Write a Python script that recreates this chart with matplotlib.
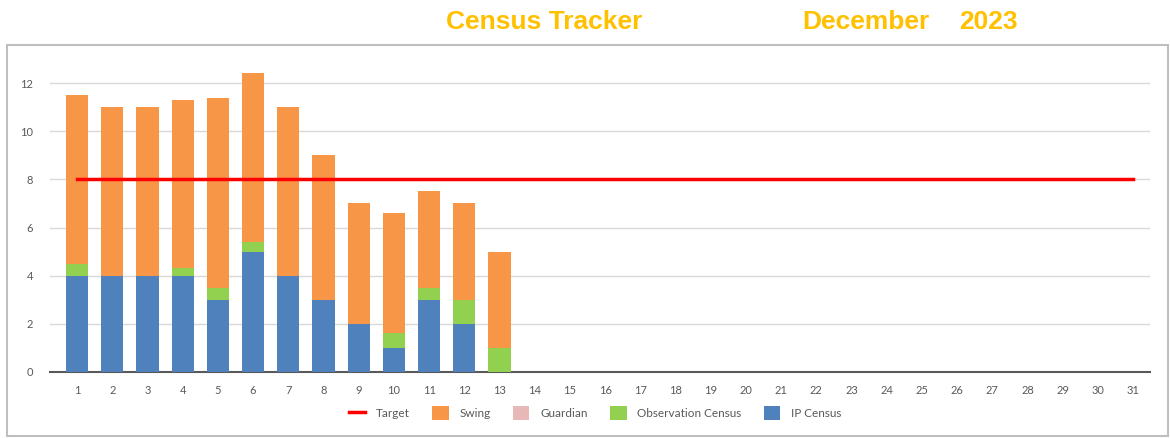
import matplotlib
matplotlib.use('Agg')
import matplotlib.pyplot as plt
from matplotlib.patches import Rectangle
import numpy as np

# data (days 14-31 have no data yet)
days = list(range(1, 32))
ip_census = [4, 4, 4, 4, 3, 5, 4, 3, 2, 1, 3, 2, 0] + [0] * 18
obs_census = [0.5, 0, 0, 0.3, 0.5, 0.4, 0, 0, 0, 0.6, 0.5, 1, 1] + [0] * 18
guardian = [0] * 31
swing = [7, 7, 7, 7, 7.9, 7, 7, 6, 5, 5, 4, 4, 4] + [0] * 18
target = [8] * 31

c_ip = '#4F81BD'
c_obs = '#92D050'
c_guard = '#E6B9B8'
c_swing = '#F79646'
c_target = '#FF0000'
txt_grey = '#595959'
gold = '#FFC000'

fig = plt.figure(figsize=(11.7, 4.38), dpi=100)

# chart frame like the spreadsheet chart box
fig.patches.append(Rectangle((7 / 1170, 0.004), 1161 / 1170, 1 - 45 / 438 - 0.004,
                             transform=fig.transFigure, fill=False,
                             edgecolor='#BFBFBF', linewidth=1.5))

title_font = ['Liberation Sans', 'DejaVu Sans']
fig.text(544 / 1170, 1 - 22 / 438, 'Census Tracker', color=gold, fontsize=19,
         fontweight='bold', family=title_font, ha='center', va='center')
fig.text(866 / 1170, 1 - 22 / 438, 'December', color=gold, fontsize=19,
         fontweight='bold', family=title_font, ha='center', va='center')
fig.text(988 / 1170, 1 - 22 / 438, '2023', color=gold, fontsize=19,
         fontweight='bold', family=title_font, ha='center', va='center')

ax = fig.add_axes([50 / 1170, 1 - 372 / 438, 1100 / 1170, 313 / 438])

x = np.array(days)
w = 0.63
ip = np.array(ip_census, dtype=float)
ob = np.array(obs_census, dtype=float)
gd = np.array(guardian, dtype=float)
sw = np.array(swing, dtype=float)

b_ip = ax.bar(x, ip, w, color=c_ip, label='IP Census', zorder=3)
b_ob = ax.bar(x, ob, w, bottom=ip, color=c_obs, label='Observation Census', zorder=3)
b_gd = ax.bar(x, gd, w, bottom=ip + ob, color=c_guard, label='Guardian', zorder=3)
b_sw = ax.bar(x, sw, w, bottom=ip + ob + gd, color=c_swing, label='Swing', zorder=3)
l_t, = ax.plot(x, target, color=c_target, linewidth=2.5, label='Target', zorder=4)

ax.set_xlim(0.23, 31.48)
ax.set_ylim(0, 13)
ax.set_yticks(range(0, 13, 2))
ax.set_xticks(days)
ax.grid(axis='y', color='#D9D9D9', linewidth=1, zorder=0)
for s in ['top', 'right', 'left']:
    ax.spines[s].set_visible(False)
ax.spines['bottom'].set_color('#595959')
ax.spines['bottom'].set_linewidth(1.5)
ax.tick_params(axis='both', length=0, labelsize=8, labelcolor=txt_grey,
               labelfontfamily='Lato')
ax.tick_params(axis='x', pad=9)
ax.tick_params(axis='y', pad=12)

leg = fig.legend([l_t, b_sw, b_gd, b_ob, b_ip],
                 ['Target', 'Swing', 'Guardian', 'Observation Census', 'IP Census'],
                 loc='center', bbox_to_anchor=(595 / 1170, 1 - 413 / 438), ncol=5,
                 frameon=False, handlelength=1.4, handleheight=1.4,
                 columnspacing=1.9, handletextpad=0.9,
                 prop={'family': 'Lato', 'size': 8.5})
for t in leg.get_texts():
    t.set_color(txt_grey)

fig.savefig('out.png', dpi=100)
